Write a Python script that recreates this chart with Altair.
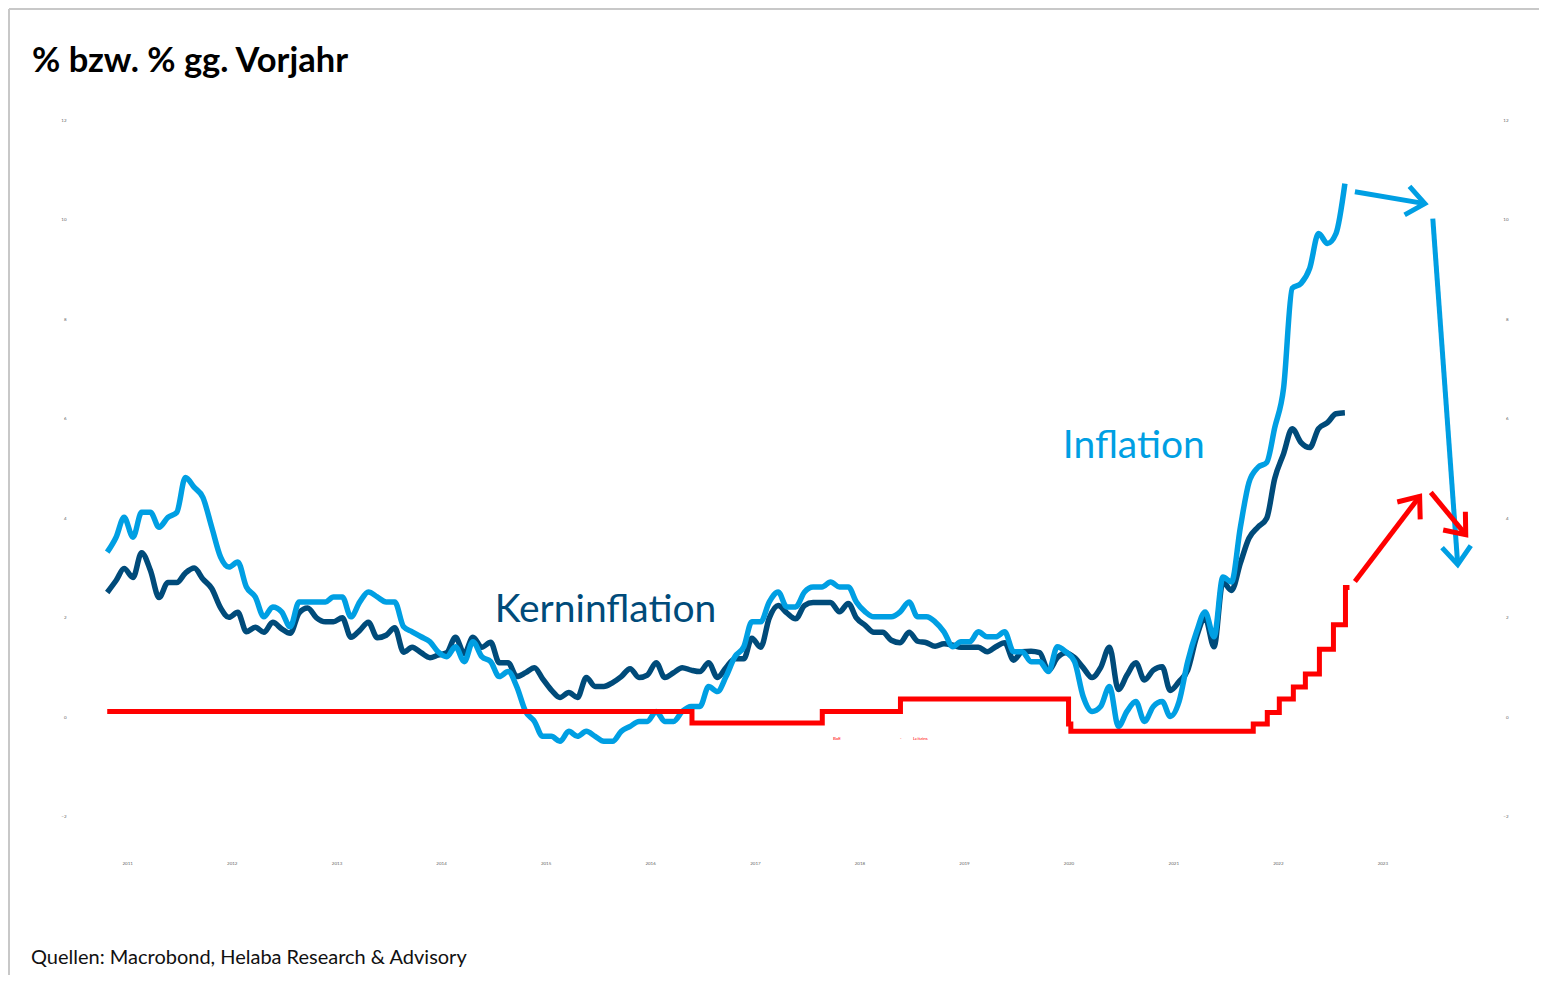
import math
import altair as alt
import pandas as pd

# ---------------- data ----------------
first_month = "2011-01-01"

# Inflation, % gg. Vorjahr (monthly)
inflation = [
    3.32, 3.62, 4.02, 3.62, 4.12, 4.12, 3.82, 4.02, 4.12, 4.82, 4.62, 4.42,   # 2011
    3.82, 3.22, 3.02, 3.12, 2.62, 2.42, 2.02, 2.22, 2.12, 1.82, 2.32, 2.32,   # 2012
    2.32, 2.32, 2.42, 2.42, 2.02, 2.32, 2.52, 2.42, 2.32, 2.32, 1.82, 1.72,   # 2013
    1.62, 1.52, 1.32, 1.22, 1.42, 1.12, 1.52, 1.22, 1.12, 0.82, 0.92, 0.62,   # 2014
    0.12, -0.08, -0.38, -0.38, -0.48, -0.28, -0.38, -0.28, -0.38, -0.48, -0.48, -0.28,  # 2015
    -0.18, -0.08, -0.08, 0.12, -0.08, -0.08, 0.12, 0.22, 0.22, 0.62, 0.52, 0.82,  # 2016
    1.22, 1.42, 1.92, 1.92, 2.32, 2.52, 2.22, 2.22, 2.52, 2.62, 2.62, 2.72,   # 2017
    2.62, 2.62, 2.32, 2.12, 2.02, 2.02, 2.02, 2.12, 2.32, 2.02, 2.02, 1.92,   # 2018
    1.72, 1.42, 1.52, 1.52, 1.72, 1.62, 1.62, 1.72, 1.32, 1.32, 1.12, 1.12,   # 2019
    0.92, 1.42, 1.32, 1.12, 0.42, 0.12, 0.22, 0.62, -0.18, 0.12, 0.32, -0.08,  # 2020
    0.22, 0.32, 0.02, 0.32, 1.12, 1.72, 2.12, 1.62, 2.82, 2.72, 3.82, 4.72,   # 2021
    5.02, 5.12, 5.82, 6.62, 8.62, 8.72, 9.02, 9.72, 9.52, 9.72, 10.72,        # 2022
]

# Kerninflation, % gg. Vorjahr (monthly)
core = [
    2.51, 2.75, 2.99, 2.81, 3.31, 2.95, 2.41, 2.71, 2.71, 2.90, 3.00, 2.78,   # 2011
    2.59, 2.20, 2.01, 2.11, 1.72, 1.81, 1.71, 1.91, 1.78, 1.69, 2.10, 2.20,   # 2012
    2.00, 1.92, 1.92, 2.00, 1.61, 1.75, 1.91, 1.60, 1.65, 1.80, 1.31, 1.41,   # 2013
    1.30, 1.20, 1.25, 1.30, 1.61, 1.28, 1.61, 1.41, 1.51, 1.10, 1.10, 0.82,   # 2014
    0.90, 1.00, 0.78, 0.55, 0.40, 0.50, 0.40, 0.80, 0.62, 0.62, 0.70, 0.82,   # 2015
    0.98, 0.80, 0.85, 1.10, 0.80, 0.90, 1.00, 0.95, 0.92, 1.10, 0.80, 1.00,   # 2016
    1.18, 1.18, 1.59, 1.41, 2.00, 2.25, 2.10, 1.98, 2.25, 2.31, 2.31, 2.31,   # 2017
    2.12, 2.29, 2.00, 1.85, 1.71, 1.71, 1.55, 1.50, 1.71, 1.53, 1.50, 1.43,   # 2018
    1.48, 1.45, 1.41, 1.41, 1.41, 1.32, 1.42, 1.50, 1.15, 1.32, 1.33, 1.30,   # 2019
    0.94, 1.20, 1.30, 1.20, 1.00, 0.80, 1.00, 1.41, 0.56, 0.85, 1.10, 0.75,   # 2020
    0.95, 1.02, 0.54, 0.72, 0.95, 1.62, 2.00, 1.42, 2.72, 2.55, 3.10, 3.60,   # 2021
    3.82, 4.00, 4.80, 5.30, 5.80, 5.52, 5.42, 5.80, 5.92, 6.10, 6.12,         # 2022
]

# BoE-Leitzins (step changes)
rate_dates = [
    "2011-01-01", "2016-08-04", "2017-11-02", "2018-08-02", "2020-03-11",
    "2020-03-19", "2021-12-16", "2022-02-03", "2022-03-17", "2022-05-05",
    "2022-06-16", "2022-08-04", "2022-09-22", "2022-11-03", "2022-11-17",
]
rate_values = [
    0.12, -0.11, 0.12, 0.37, -0.13,
    -0.28, -0.13, 0.10, 0.37, 0.61,
    0.87, 1.37, 1.86, 2.61, 2.61,
]

# hand-drawn outlook arrows
arrow_series = ["Inflation", "Inflation", "Leitzins", "Leitzins"]
arrow_start_date = ["2022-12-06", "2023-09-04", "2022-12-06", "2023-08-28"]
arrow_start_value = [10.56, 10.02, 2.73, 4.52]
arrow_end_date = ["2023-08-07", "2023-11-30", "2023-07-20", "2023-12-28"]
arrow_end_value = [10.32, 3.07, 4.44, 3.67]

# series labels
label_text = ["Inflation", "Kerninflation"]
label_date = ["2020-02-20", "2014-09-15"]
label_value = [5.22, 1.91]

year_ticks = list(range(2011, 2024))
y_ticks = list(range(-2, 13, 2))

# ---------------- layout ----------------
LIGHT = "#009fe3"
DARK = "#004b7a"
RED = "#ff0000"
FONT = "Lato"

dom_start = pd.Timestamp("2010-08-24")
dom_end = pd.Timestamp("2024-07-01")
PX_PER_YEAR = 104.6
W = round((dom_end - dom_start).days / 365.25 * PX_PER_YEAR, 1)
H = 697
PX_PER_DAY = W / (dom_end - dom_start).days
PX_PER_UNIT = H / 14.0
PAD = {"left": 62, "top": 112, "right": 20, "bottom": 158}

months = pd.date_range(first_month, periods=len(inflation), freq="MS").strftime("%Y-%m-%d").tolist()
infl_df = pd.DataFrame({"date": months, "value": inflation, "series": "Inflation"})
core_df = pd.DataFrame({"date": months, "value": core, "series": "Kerninflation"})
rate_df = pd.DataFrame({"date": rate_dates, "value": rate_values, "series": "Leitzins"})

angles = []
for sd, sv, ed, ev in zip(arrow_start_date, arrow_start_value, arrow_end_date, arrow_end_value):
    dx = (pd.Timestamp(ed) - pd.Timestamp(sd)).days * PX_PER_DAY
    dy = -(ev - sv) * PX_PER_UNIT
    angles.append(math.degrees(math.atan2(dy, dx)) % 360)
arrow_df = pd.DataFrame({
    "series": arrow_series,
    "sdate": arrow_start_date, "svalue": arrow_start_value,
    "edate": arrow_end_date, "evalue": arrow_end_value,
    "angle": angles,
})
label_df = pd.DataFrame({"text": label_text, "date": label_date, "value": label_value,
                         "series": label_text})
one = pd.DataFrame({"a": [0]})

color_scale = alt.Scale(domain=["Inflation", "Kerninflation", "Leitzins"],
                        range=[LIGHT, DARK, RED])
x_scale = alt.Scale(type="utc", domain=[
    alt.DateTime(year=2010, month=8, date=24, utc=True),
    alt.DateTime(year=2024, month=7, date=1, utc=True)])
y_scale = alt.Scale(domain=[-2, 12], nice=False, zero=False)

x_axis = alt.Axis(values=[alt.DateTime(year=y, month=1, date=1, utc=True) for y in year_ticks],
                  format="%Y", labelOffset=20, labelPadding=44, ticks=False, tickSize=0,
                  domain=False, grid=False, labelFontSize=4.5, labelColor="#666666",
                  labelFont=FONT, title=None, labelFlush=False)
left_axis = alt.Axis(orient="left", values=y_ticks, labelPadding=4, ticks=False, tickSize=0,
                     domain=False, grid=False, labelFontSize=4.5, labelColor="#666666",
                     labelFont=FONT, title=None, labelAlign="right")
right_axis = alt.Axis(orient="right", values=y_ticks, labelPadding=-11, ticks=False, tickSize=0,
                      domain=False, grid=False, labelFontSize=4.5, labelColor="#666666",
                      labelFont=FONT, title=None, labelAlign="right")

X = alt.X("date:T", scale=x_scale, axis=x_axis)
C = alt.Color("series:N", scale=color_scale, legend=None)

core_line = alt.Chart(core_df).mark_line(strokeWidth=5.5, interpolate="monotone").encode(
    x=X, y=alt.Y("value:Q", scale=y_scale, axis=left_axis), color=C)
infl_line = alt.Chart(infl_df).mark_line(strokeWidth=5.5, interpolate="monotone").encode(
    x=X, y=alt.Y("value:Q", scale=y_scale, axis=None), color=C)
rate_line = alt.Chart(rate_df).mark_line(strokeWidth=5, interpolate="step-after").encode(
    x=X, y=alt.Y("value:Q", scale=y_scale, axis=right_axis), color=C)

arrow_shaft = alt.Chart(arrow_df).mark_rule(strokeWidth=5).encode(
    x=alt.X("sdate:T", scale=x_scale, axis=x_axis), x2="edate:T",
    y=alt.Y("svalue:Q", scale=y_scale, axis=None), y2="evalue:Q", color=C)
CHEVRON = "M-1,-0.8L0,0L-1,0.8"
arrow_head = alt.Chart(arrow_df).mark_point(shape=CHEVRON, filled=False, strokeWidth=5,
                                            size=1296, opacity=1, strokeJoin="miter").encode(
    x=alt.X("edate:T", scale=x_scale, axis=x_axis),
    y=alt.Y("evalue:Q", scale=y_scale, axis=None),
    angle=alt.Angle("angle:Q", scale=None), color=C)

labels = alt.Chart(label_df).mark_text(align="left", baseline="alphabetic", fontSize=39,
                                       font=FONT).encode(
    x=alt.X("date:T", scale=x_scale, axis=x_axis),
    y=alt.Y("value:Q", scale=y_scale, axis=None), text="text:N", color=C)

title = alt.Chart(one).mark_text(text="% bzw. % gg. Vorjahr", align="left", baseline="alphabetic",
                                 fontSize=34.5, fontWeight="bold", font=FONT, color="#000000").encode(
    x=alt.value(-38), y=alt.value(-48))
source = alt.Chart(one).mark_text(text="Quellen: Macrobond, Helaba Research & Advisory",
                                  align="left", baseline="alphabetic", fontSize=20, font=FONT,
                                  color="#111111").encode(x=alt.value(-39), y=alt.value(844))
leg_boe = alt.Chart(one).mark_text(text="BoE", align="left", baseline="middle", fontSize=4.5,
                                   font=FONT, color=RED).encode(x=alt.value(763), y=alt.value(619))
leg_dash = alt.Chart(one).mark_text(text="-", align="left", baseline="middle", fontSize=4.5,
                                    font=FONT, color=RED).encode(x=alt.value(830), y=alt.value(619))
leg_rate = alt.Chart(one).mark_text(text="Leitzins", align="left", baseline="middle", fontSize=4.5,
                                    font=FONT, color=RED).encode(x=alt.value(843), y=alt.value(619))

frame_top = alt.Chart(one).mark_rule(color="#c8c8c8", strokeWidth=2).encode(
    x=alt.value(-61), x2=alt.value(W + 20), y=alt.value(-111))
frame_left = alt.Chart(one).mark_rule(color="#c8c8c8", strokeWidth=2).encode(
    x=alt.value(-61), y=alt.value(-111), y2=alt.value(H + 158))

chart = alt.layer(
    frame_top, frame_left,
    core_line, infl_line, rate_line, arrow_shaft, arrow_head, labels,
    title, source, leg_boe, leg_dash, leg_rate,
).resolve_axis(y="independent").properties(
    width=W, height=H, padding=PAD, autosize=alt.AutoSizeParams(type="none"),
    background="white",
).configure_view(stroke=None)

chart.save("out.html", embed_options={"renderer": "svg", "actions": False})
